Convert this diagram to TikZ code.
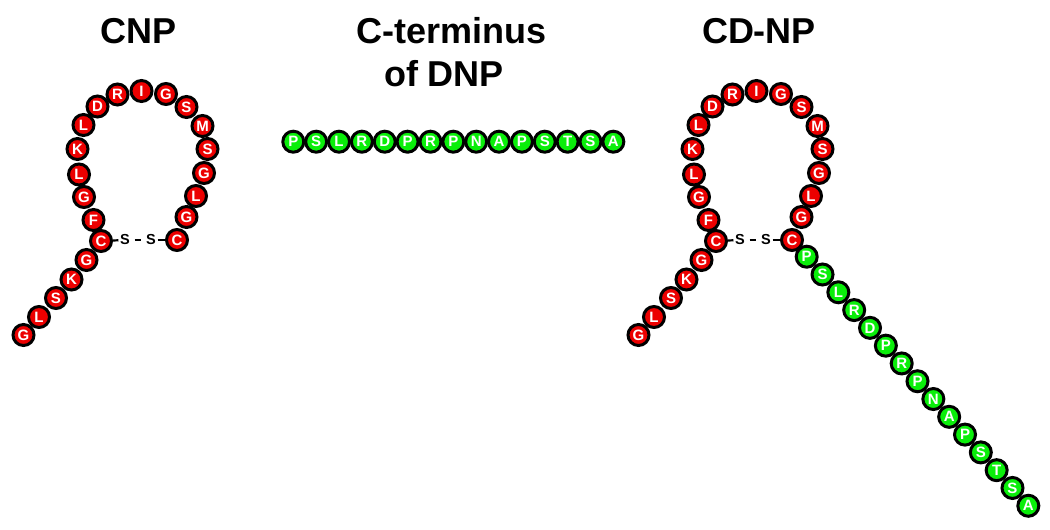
\documentclass[tikz,border=0pt]{standalone}
\usepackage{fontspec}
\setmainfont{Liberation Sans}
\definecolor{resred}{RGB}{236,0,0}
\definecolor{resgreen}{RGB}{10,238,10}
\tikzset{
  res/.style={circle, draw=black, line width=3pt, minimum size=21pt, inner sep=0pt,
    text=white, font=\fontsize{15}{15}\selectfont\bfseries},
  redres/.style={res, fill=resred},
  greenres/.style={res, fill=resgreen},
  title/.style={font=\fontsize{36}{36}\selectfont\bfseries, anchor=base, inner sep=0pt},
  sulf/.style={font=\fontsize{14.5}{14.5}\selectfont\bfseries, inner sep=1.5pt},
  bond/.style={line width=2.2pt}
}
\newcommand\cnploop{%
  \foreach \l/\x/\y [count=\i] in {G/23.5/335, L/39/317, S/56/298, K/71.5/279.5,
      G/86.5/260, C/101/241, F/93.5/220, G/84/197, L/79/174.5, K/77.5/149,
      L/83.5/125, D/97.5/106.5, R/117.5/94.5, I/141.5/91, G/166/94, S/186.5/107,
      M/202.5/126, S/207.5/149, G/204/173, L/196/196, G/186.5/217, C/177/240}
    {\node[redres] (r\i) at (\x,\y) {\l};}
  \node[sulf] (s1) at (125,240) {S};
  \node[sulf] (s2) at (151,240) {S};
  \draw[bond] (r6) -- (s1);
  \draw[bond, shorten <=3pt, shorten >=3pt] (s1) -- (s2);
  \draw[bond] (s2) -- (r22);
}
\begin{document}
\begin{tikzpicture}[x=1pt,y=-1pt]
\useasboundingbox (0,0) rectangle (1050,530);
% titles
\node[title] (tcnp) at (139,43.3) {CNP};
\node[title] (tct1) at (452,43.3) {C-terminus};
\node[title] (tct2) at (444,86.7) {of DNP};
\node[title] (tcd) at (759,43.3) {CD-NP};
% CNP
\begin{scope}[name prefix=cnp-]
  \cnploop
\end{scope}
% C-terminus of DNP
\foreach \l [count=\i] in {P,S,L,R,D,P,R,P,N,A,P,S,T,S,A}
  {\node[greenres] (g\i) at ({293.3+(\i-1)*22.86},141.7) {\l};}
% CD-NP
\begin{scope}[name prefix=cd-, xshift=615pt]
  \cnploop
\end{scope}
\foreach \l [count=\i] in {P,S,L,R,D,P,R,P,N,A,P,S,T,S,A}
  {\node[greenres] (t\i) at ({806.7+(\i-1)*15.83},{256.7+(\i-1)*17.79}) {\l};}
\end{tikzpicture}
\end{document}
